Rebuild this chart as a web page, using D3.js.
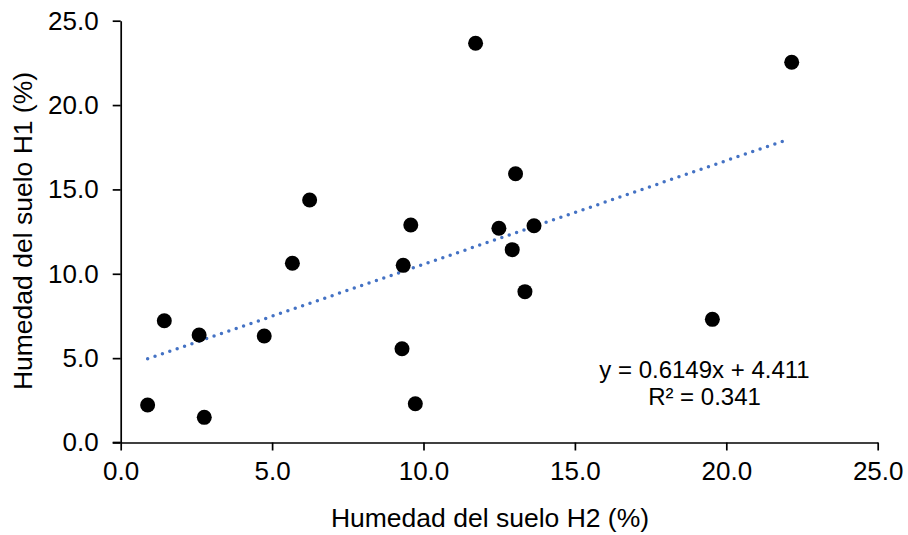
<!DOCTYPE html>
<html><head><meta charset="utf-8">
<script src="https://cdn.jsdelivr.net/npm/d3@7"></script>
<style>
body{margin:0;background:#fff;}
svg{display:block;font-family:"Liberation Sans",Arial,sans-serif;}
</style></head>
<body><svg id="c" width="908" height="535"></svg>
<script>
const xValues = [0.89,1.44,2.59,2.76,4.74,5.67,6.24,9.29,9.33,9.58,9.73,11.72,12.49,12.93,13.04,13.35,13.65,19.54,22.16];
const yValues = [2.22,7.22,6.37,1.49,6.31,10.62,14.37,5.56,10.50,12.89,2.30,23.66,12.70,11.43,15.93,8.94,12.85,7.30,22.54];
const tickValues = [0,5,10,15,20,25];
const slope = 0.6149, intercept = 4.411;
const eqLines = ["y = 0.6149x + 4.411","R² = 0.341"];
const xTitle = "Humedad del suelo H2 (%)";
const yTitle = "Humedad del suelo H1 (%)";

const svg = d3.select("#c");
const x = d3.scaleLinear().domain([0,25]).range([120.7,877.7]);
const y = d3.scaleLinear().domain([0,25]).range([442.5,20.7]);
const fmt = d3.format(".1f");

const xAxis = svg.append("g").attr("transform",`translate(0,${y(0)})`)
  .call(d3.axisBottom(x).tickValues(tickValues).tickFormat(fmt).tickSize(8).tickSizeOuter(0).tickPadding(11));
const yAxis = svg.append("g").attr("transform",`translate(${x(0)},0)`)
  .call(d3.axisLeft(y).tickValues(tickValues).tickFormat(fmt).tickSize(8).tickSizeOuter(0).tickPadding(14));
[xAxis,yAxis].forEach(g=>{
  g.selectAll("path.domain").attr("stroke","#000").attr("stroke-width",1.7);
  g.selectAll(".tick line").attr("stroke","#000").attr("stroke-width",1.7);
  g.selectAll(".tick text").attr("fill","#000").style("font-size","26px").style("font-family","'Liberation Sans',Arial,sans-serif");
});
// extend x-axis line to y-axis tick
svg.append("line").attr("x1",x(0)-8).attr("x2",x(0)).attr("y1",y(0)).attr("y2",y(0)).attr("stroke","#000").attr("stroke-width",1.7);

// trendline
const xmin = d3.min(xValues), xmax = d3.max(xValues);
svg.append("path")
  .datum([xmin, xmax-0.08])
  .attr("d", d3.line().x(d=>x(d)).y(d=>y(slope*d+intercept)))
  .attr("fill","none").attr("stroke","#4472C4").attr("stroke-width",3.5)
  .attr("stroke-linecap","round").attr("stroke-dasharray","0 7.8");

// points
svg.append("g").selectAll("circle").data(xValues.map((v,i)=>[v,yValues[i]])).join("circle")
  .attr("cx",d=>x(d[0])).attr("cy",d=>y(d[1])).attr("r",7.5).attr("fill","#000");

// equation
svg.append("g").selectAll("text").data(eqLines).join("text")
  .attr("x",704.5).attr("y",(d,i)=>378+i*27).attr("text-anchor","middle")
  .style("font-size","24px").attr("fill","#000").text(d=>d);

// titles
svg.append("text").attr("x",490).attr("y",527).attr("text-anchor","middle")
  .style("font-size","26.5px").attr("fill","#000").text(xTitle);
svg.append("text").attr("transform","translate(32,231) rotate(-90)").attr("text-anchor","middle")
  .style("font-size","26.5px").attr("fill","#000").text(yTitle);
</script></body></html>
